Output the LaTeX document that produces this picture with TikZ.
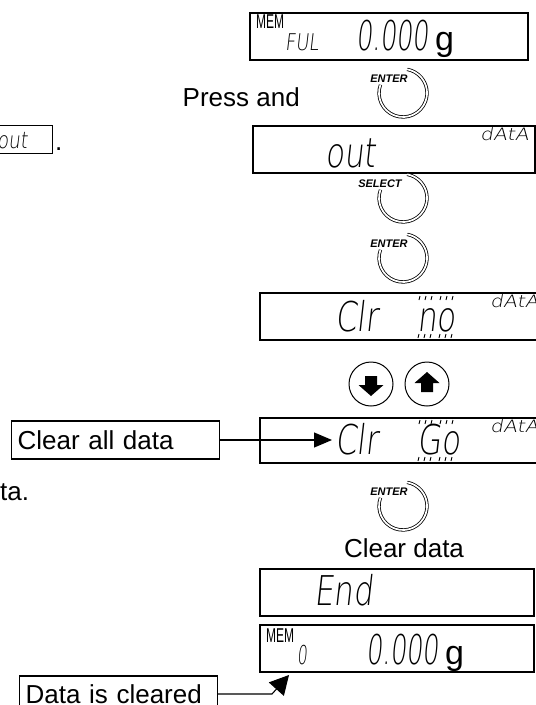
\documentclass[tikz,border=0pt]{standalone}
\usepackage{fontspec}
\setmainfont{Liberation Sans}
\IfFontExistsTF{DejaVu Sans ExtraLight}
  {\newfontfamily\lcdfont{DejaVu Sans ExtraLight}[FakeSlant=0.15]}
  {\newfontfamily\lcdfont{DejaVu Sans}[FakeSlant=0.15]}
\usetikzlibrary{arrows.meta}
\newcommand\lcd[3]{\scalebox{#2}[1]{\lcdfont\fontsize{#1}{#1}\selectfont #3}}
\begin{document}
\begin{tikzpicture}[x=1pt,y=-1pt,
  lcdbox/.style={draw, line width=1.5pt, inner sep=0pt, outer sep=0pt, anchor=north west, minimum height=47pt},
  note/.style={draw, line width=1.1pt, inner ysep=0pt, inner xsep=6pt, anchor=west, align=left, minimum height=38pt, font=\fontsize{26}{30}\selectfont},
  btn/.style={double, double distance=1.7pt, line width=0.8pt},
  btntext/.style={font=\fontsize{11}{11}\selectfont\bfseries\itshape, inner sep=0pt},
  arrowbtn/.style={draw, circle, line width=1pt, minimum size=44pt, inner sep=0pt},
  conn/.style={line width=1.1pt},
  plain/.style={inner sep=0pt, font=\fontsize{26}{30}\selectfont},
  seg/.style={inner sep=0pt, anchor=base west},
  flash/.style={line width=0.9pt}]
\clip (0,0) rectangle (536,705);
\fill[white] (0,0) rectangle (536,705);

% ---- top display
\node[lcdbox, minimum width=278pt] (topbox) at (250,13) {};
\node[anchor=north west, inner sep=0pt] (mem1) at (256,15) {\scalebox{0.6}[1]{\fontsize{20}{20}\selectfont MEM}};
\node[seg] (ful) at (285,50) {\lcd{23}{0.78}{FUL}};
\node[seg] (w1) at (356,50) {\lcd{41}{0.62}{0.000}};
\node[seg] (g1) at (435,50) {\fontsize{34}{34}\selectfont g};

% ---- Press and + ENTER
\node[plain, anchor=base east] (press) at (300,106) {Press and};
\coordinate (b1) at (403,93);
\draw[btn] ([shift={(-160:24)}]b1) arc[start angle=-160, end angle=-440, radius=24];
\node[btntext] (b1t) at (389,79) {ENTER};

% ---- small out box at left
\node[draw, line width=1.3pt, anchor=north east, minimum width=70pt, minimum height=28pt, inner sep=0pt] (smallout) at (53,125) {};
\node[seg] (smallouttxt) at (-3,148) {\lcd{23}{0.8}{out}};
\node[plain, anchor=base west] (dot) at (55,150) {.};

% ---- out display
\node[lcdbox, minimum width=282pt] (outbox) at (253,126) {};
\node[seg] (outtxt) at (325,167) {\lcd{41}{0.75}{out}};
\node[anchor=north west, inner sep=0pt] (data1) at (480,127) {\lcd{17}{1.2}{dAtA}};

% ---- SELECT, ENTER
\coordinate (b2) at (403,198);
\draw[btn] ([shift={(-160:24)}]b2) arc[start angle=-160, end angle=-440, radius=24];
\node[btntext] (b2t) at (380,184) {SELECT};
\coordinate (b3) at (403,258);
\draw[btn] ([shift={(-160:24)}]b3) arc[start angle=-160, end angle=-440, radius=24];
\node[btntext] (b3t) at (389,244) {ENTER};

% ---- Clr no display
\node[lcdbox, minimum width=290pt] (clrno) at (260,293) {};
\node[seg] (clr1) at (335,331) {\lcd{41}{0.75}{Clr}};
\node[seg] (no) at (417,331) {\lcd{41}{0.75}{no}};
\node[anchor=north west, inner sep=0pt] (data2) at (490,294) {\lcd{17}{1.2}{dAtA}};
\foreach \x in {420,426,432,441,447,453} \draw[flash] (\x,296) -- ++(-1,4);
\foreach \x in {419,425,431,440,446,452} \draw[flash] (\x,334) -- ++(-1,4);

% ---- arrow buttons
\node[arrowbtn] (down) at (371,384) {};
\node[arrowbtn] (up) at (427,384) {};
\fill[shift={(down)}] (0,12) -- (12.5,1) -- (6,1) -- (6,-8) -- (-6,-8) -- (-6,1) -- (-12.5,1) -- cycle;
\fill[shift={(up)}] (0,-12) -- (12.5,-1) -- (6,-1) -- (6,8) -- (-6,8) -- (-6,-1) -- (-12.5,-1) -- cycle;

% ---- Clr Go display
\node[lcdbox, minimum width=290pt, minimum height=45pt] (clrgo) at (260,418) {};
\node[seg] (clr2) at (335,454) {\lcd{41}{0.75}{Clr}};
\node[seg] (go) at (417,454) {\lcd{41}{0.75}{Go}};
\node[anchor=north west, inner sep=0pt] (data3) at (490,419) {\lcd{17}{1.2}{dAtA}};
\foreach \x in {420,426,432,441,447,453} \draw[flash] (\x,420) -- ++(-1,4);
\foreach \x in {419,425,431,440,446,452} \draw[flash] (\x,457) -- ++(-1,4);

\node[note, text width=196pt] (clearall) at (11,440) {Clear all data};
\coordinate (gotip) at (332,440);
\draw[conn, -{Triangle[length=18pt, width=15pt]}] (clearall.east) -- (gotip);

\node[plain, anchor=base west] (ta) at (0,500) {ta.};

% ---- ENTER + Clear data
\coordinate (b4) at (403,506);
\draw[btn] ([shift={(-160:24)}]b4) arc[start angle=-160, end angle=-440, radius=24];
\node[btntext] (b4t) at (389,492) {ENTER};
\node[plain, anchor=base] (cleardata) at (404,557) {Clear data};

% ---- End display
\node[lcdbox, minimum width=274pt] (endbox) at (260,569) {};
\node[seg] (endtxt) at (314,605) {\lcd{41}{0.75}{End}};

% ---- final display
\node[lcdbox, minimum width=274pt] (membox) at (260,625) {};
\node[anchor=north west, inner sep=0pt] (mem2) at (266,629) {\scalebox{0.6}[1]{\fontsize{20}{20}\selectfont MEM}};
\node[seg] (zero) at (297,664) {\lcd{26}{0.6}{0}};
\node[seg] (w2) at (366,664) {\lcd{41}{0.62}{0.000}};
\node[seg] (g2) at (445,664) {\fontsize{34}{34}\selectfont g};

\node[note, text width=186pt, minimum height=36pt] (cleared) at (19,694) {Data is cleared};
\coordinate (bendpt) at (272,694);
\coordinate (memtip) at (289,675);
\draw[conn, -{Triangle[length=19pt, width=20pt]}] (cleared.east) -- (bendpt) -- (memtip);
\end{tikzpicture}
\end{document}
